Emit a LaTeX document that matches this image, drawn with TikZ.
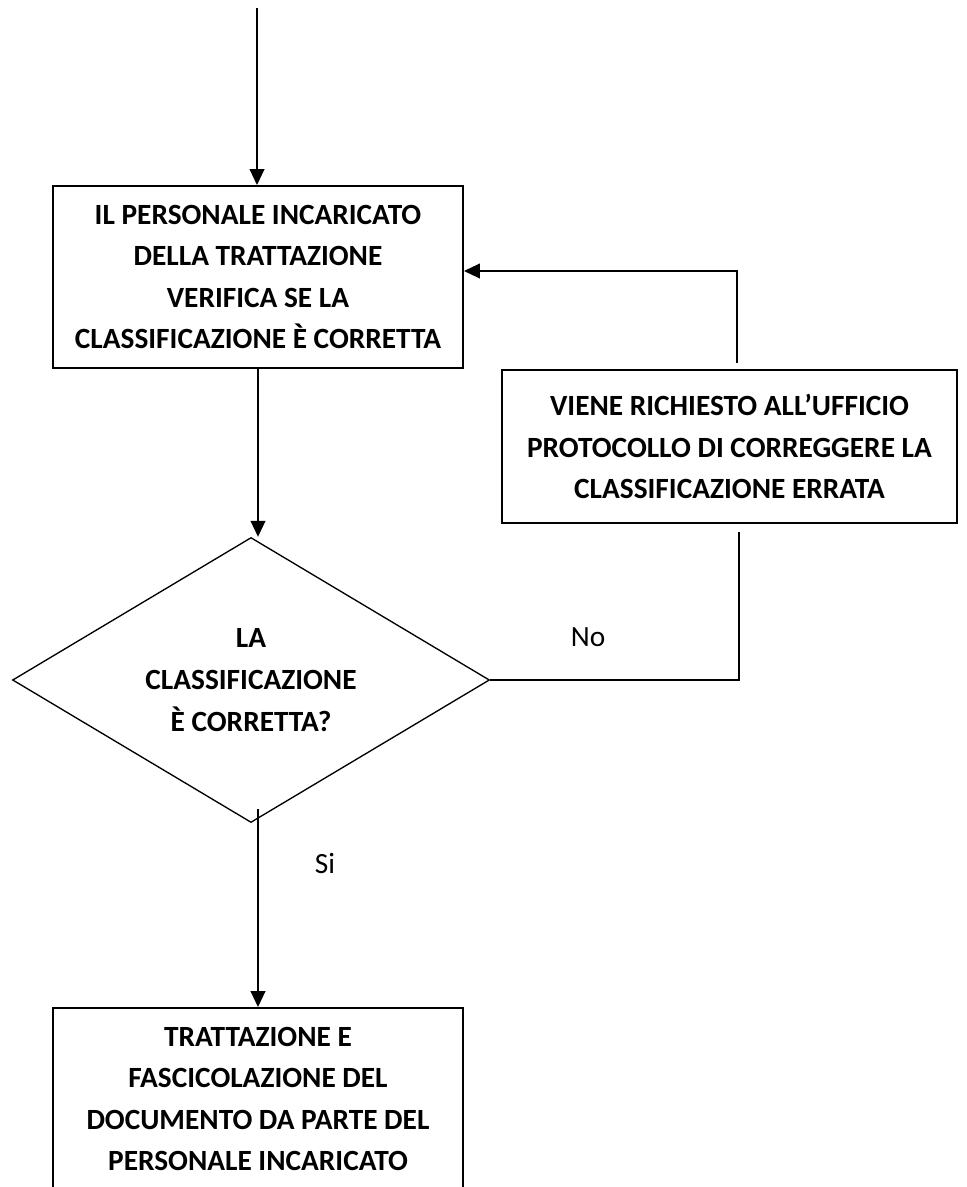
\documentclass[tikz,border=0pt]{standalone}
\usepackage{fontspec}
\setmainfont{Carlito}
\usetikzlibrary{shapes,positioning,calc,arrows.meta}

\begin{document}
\begin{tikzpicture}[x=0.75pt,y=-0.75pt,
  every node/.style={align=center,font=\fontsize{22}{31.2}\selectfont,},%
  bx/.style={draw,line width=1.4pt,minimum width=307.5pt,minimum height=136.5pt,%
    inner sep=0pt,font=\bfseries\fontsize{22}{31.2}\selectfont,},%
  dm/.style={diamond,aspect=1.67,draw,line width=1pt,minimum width=357.75pt,%
    minimum height=213.75pt,inner sep=0pt,font=\bfseries\fontsize{22}{31.2}\selectfont,},%
  e/.style={-{Triangle[length=12pt,width=11pt]},line width=1.4pt,},%
  l/.style={line width=1.4pt,},%
  ]
  \useasboundingbox (0,0) rectangle (966,1187);

  \node (verifica) [bx] at (258,277) {IL PERSONALE INCARICATO\\DELLA TRATTAZIONE\\%
    VERIFICA SE LA\\CLASSIFICAZIONE È CORRETTA};

  \node (check) [dm] at (251,680) {LA\\CLASSIFICAZIONE\\È CORRETTA?};

  \node (corr) [bx,minimum width=341.25pt,minimum height=114.75pt] at (729.5,446.5)
  {VIENE RICHIESTO ALL’UFFICIO\\PROTOCOLLO DI CORREGGERE LA\\CLASSIFICAZIONE ERRATA};

  \node (tratta) [bx] at (258,1099) {TRATTAZIONE E\\FASCICOLAZIONE DEL\\%
    DOCUMENTO DA PARTE DEL\\PERSONALE INCARICATO};

  \node (no) at (588,637) {No};
  \node (si) at (325,864) {Si};

  \coordinate (top) at (257,8);
  \coordinate (backfoot) at (737,363);
  \coordinate (nofoot) at (739,532);

  \draw [e] (top) -- (top |- verifica.north);
  \draw [e] (verifica.south) -- (verifica.south |- check.north);
  \draw [e] ($(tratta.north |- check.south)+(0,-14)$) -- (tratta.north);
  \draw [l] (check.east) -| (nofoot);
  \draw [e] (backfoot) |- ([yshift=4.5pt]verifica.east);
\end{tikzpicture}
\end{document}
